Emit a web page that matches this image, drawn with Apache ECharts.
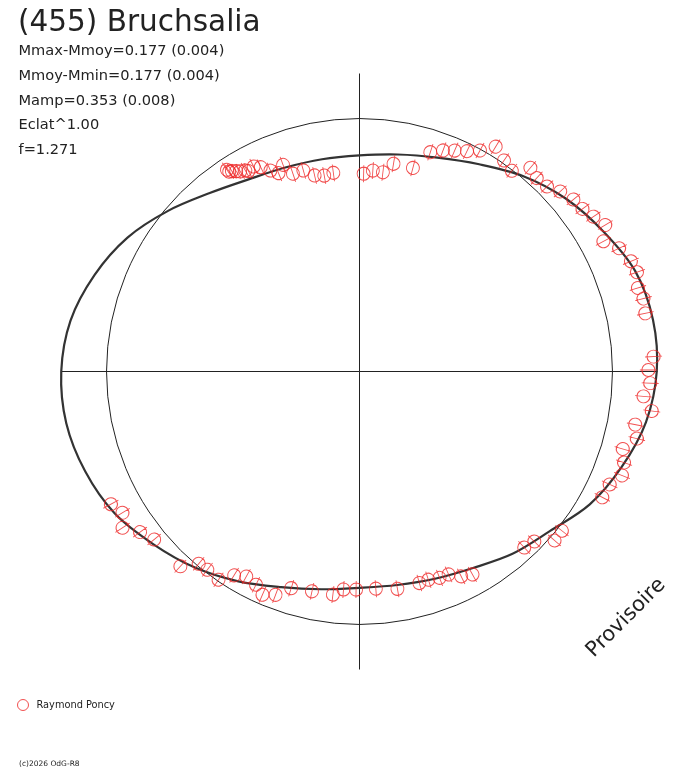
<!DOCTYPE html>
<html><head><meta charset="utf-8">
<script src="https://cdn.jsdelivr.net/npm/echarts@6/dist/echarts.min.js"></script>
<style>html,body{margin:0;padding:0;background:#fff}#c{width:688px;height:768px}</style>
</head><body><div id="c"></div>
<script>
// ---- data (angle in degrees, radius relative to mean-brightness circle = 1) ----
const titleText = '(455) Bruchsalia';
const statLines = ['Mmax-Mmoy=0.177 (0.004)', 'Mmoy-Mmin=0.177 (0.004)', 'Mamp=0.353 (0.008)', 'Eclat^1.00', 'f=1.271'];
const observerName = 'Raymond Poncy';
const copyrightText = '(c)2026 OdG-R8';
const stampText = 'Provisoire';

const fitAngle = [0,10,20,30,40,50,60,70,80,90,100,110,120,130,140,150,160,170,
                  180,190,200,210,220,230,240,250,260,270,280,290,300,310,320,330,340,350];
const fitRadius = [1.175,1.178,1.160,1.111,1.064,1.008,0.946,0.900,0.871,0.854,0.852,0.858,0.877,0.921,0.988,1.059,1.115,1.160,
                   1.179,1.177,1.154,1.119,1.063,1.012,0.958,0.907,0.874,0.855,0.857,0.872,0.897,0.941,0.982,1.051,1.103,1.150];

const obsAngle = [0.3,2.9,5.6,8.8,11.5,14.4,16.7,19.7,22.1,25.4,28.1,30.8,33.5,36.1,38.8,41.9,44.6,47.5,50.0,52.8,
  55.6,58.8,61.4,64.0,66.7,69.3,72.1,75.3,80.7,83.3,86.2,88.8,97.5,100.2,102.9,105.6,108.6,110.3,112.2,113.9,
  115.8,117.3,119.0,119.6,120.8,121.6,122.5,123.1,123.3,
  208.1,210.8,213.4,216.2,219.3,227.4,230.1,232.5,235.9,238.4,241.1,244.1,246.5,249.4,252.5,257.8,263.2,265.8,269.1,
  274.3,279.9,285.8,288.3,291.2,293.7,296.4,299.1,313.1,315.8,319.1,321.8,332.6,335.7,338.4,341.0,343.6,346.4,349.1,
  352.3,355.0,357.7];
const obsRadius = [1.142,1.164,1.187,1.183,1.153,1.159,1.149,1.165,1.158,1.136,1.093,1.131,1.109,1.091,1.085,1.066,1.041,1.037,1.051,0.996,
  1.011,1.039,0.995,0.969,0.951,0.934,0.911,0.832,0.832,0.793,0.796,0.782,0.792,0.787,0.795,0.825,0.825,0.871,0.847,0.869,
  0.897,0.912,0.906,0.914,0.921,0.930,0.939,0.943,0.954,
  1.114,1.091,1.122,1.075,1.049,1.046,0.991,0.988,0.994,0.946,0.926,0.937,0.962,0.943,0.898,0.889,0.888,0.864,0.862,
  0.861,0.872,0.869,0.867,0.875,0.876,0.904,0.918,0.953,0.964,1.020,1.018,1.081,1.085,1.116,1.106,1.085,1.128,1.110,
  1.166,1.127,1.150];

const radiusMax = 1.178;   // axis reach (Mmax level)

// ---- build ----
const fitData = fitAngle.map((a, i) => [fitRadius[i], a]);
const obsData = obsAngle.map((a, i) => [obsRadius[i], a]);
const FONT = '"DejaVu Sans", sans-serif';
const INK = '#222';
const RED = '#ee2424';

const graphics = [
  { type: 'text', x: 18, y: 23, style: { text: titleText, font: '29.5px ' + FONT, fill: INK, verticalAlign: 'middle' } },
  { type: 'text', x: 19, y: 764, style: { text: copyrightText, font: '7.5px ' + FONT, fill: INK, verticalAlign: 'middle' } },
  { type: 'text', x: 626, y: 618, rotation: Math.PI / 4,
    style: { text: stampText, font: '21px ' + FONT, fill: INK, align: 'center', verticalAlign: 'middle' } }
];
const statY = [51, 76, 101, 125.5, 150];
statLines.forEach((t, i) => graphics.push({ type: 'text', x: 18.5, y: statY[i],
  style: { text: t, font: '14.6px ' + FONT, fill: INK, verticalAlign: 'middle' } }));

const chart = echarts.init(document.getElementById('c'), null, { renderer: 'canvas' });
chart.setOption({
  animation: false,
  backgroundColor: '#fff',
  polar: { center: [359.5, 371.5], radius: 298 },
  radiusAxis: {
    type: 'value', min: 0, max: radiusMax, interval: 1,
    axisLine: { show: false }, axisTick: { show: false }, axisLabel: { show: false },
    splitLine: { show: true, lineStyle: { width: 1, color: ['rgba(0,0,0,0)', INK, 'rgba(0,0,0,0)'] } }
  },
  angleAxis: {
    type: 'value', min: 0, max: 360, interval: 90, startAngle: 0, clockwise: false,
    axisLine: { show: false }, axisTick: { show: false }, axisLabel: { show: false },
    splitLine: { show: true, lineStyle: { width: 1, color: INK } }
  },
  legend: {
    left: 12, top: 694, itemWidth: 11, itemHeight: 11,
    data: [{ name: observerName, icon: 'circle',
      itemStyle: { color: 'rgba(0,0,0,0)', borderColor: RED, borderWidth: 1 } }],
    textStyle: { fontSize: 9.8, fontFamily: FONT, color: INK, padding: [0, 0, 0, 3] }
  },
  graphic: graphics,
  series: [
    { type: 'custom', name: 'fit', coordinateSystem: 'polar', data: fitData, silent: true, z: 2,
      renderItem: function (params, api) {
        if (params.dataIndex !== 0) return null;
        const pts = fitData.map(d => api.coord(d));
        return { type: 'polygon', shape: { points: pts, smooth: 0.33 },
                 style: { fill: 'none', stroke: '#333', lineWidth: 2.2 } };
      } },
    { type: 'scatter', name: observerName, coordinateSystem: 'polar', data: obsData,
      symbol: 'path://M0,-10A10,10 0 1,1 0,10A10,10 0 1,1 0,-10ZM0,-13L0,13',
      symbolSize: [13, 17],
      symbolRotate: (v) => v[1] - 90,
      itemStyle: { color: 'rgba(0,0,0,0)', borderColor: RED, borderWidth: 1 }, z: 3 }
  ]
});
</script></body></html>
